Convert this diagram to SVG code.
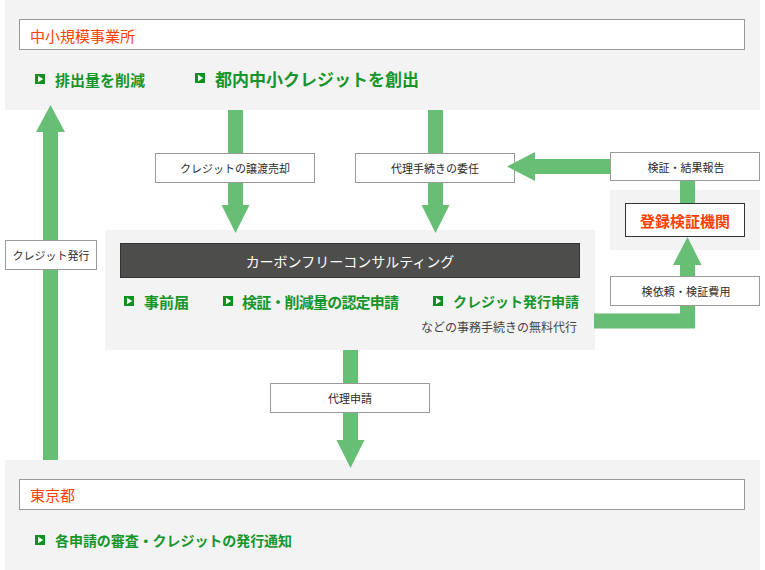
<svg xmlns="http://www.w3.org/2000/svg" width="765" height="570" viewBox="0 0 765 570">
<style>
text{font-family:"Noto Sans CJK JP","Noto Sans",sans-serif;dominant-baseline:central}
.panel{fill:#f3f3f3}
.hbox{fill:#fff;stroke:#999;stroke-width:1}
.red{fill:#ff3f00;font-size:15px}
.green{fill:#16952a;font-size:15px;font-weight:700}
.lbl{fill:#2b2b2b;font-size:11px;text-anchor:middle}
.lbox{fill:#fff;stroke:#999;stroke-width:1}
.arrow{fill:#66bf75}
</style>
<defs>
<g id="bullet"><rect x="0" y="0" width="10" height="10" fill="#12901f"/><polygon points="3,1.8 8.2,5 3,8.2" fill="#fff"/></g>
</defs>
<g id="node-sme">
<rect class="panel" x="5" y="0" width="755" height="110"/>
<rect class="hbox" x="19.5" y="19.5" width="725" height="30"/>
<text class="red" x="30" y="35">中小規模事業所</text>
<use href="#bullet" x="35" y="74"/>
<text class="green" x="55" y="79">排出量を削減</text>
<use href="#bullet" x="195" y="73"/>
<text class="green" x="215" y="78" style="font-size:17px">都内中小クレジットを創出</text>
</g>
<g id="node-cfc">
<rect class="panel" x="105" y="230" width="490" height="120"/>
<rect x="120.5" y="243.5" width="459" height="34" fill="#4d4d4b" stroke="#333"/>
<text x="350" y="260.5" fill="#fff" style="font-size:14px;text-anchor:middle">カーボンフリーコンサルティング</text>
<use href="#bullet" x="124" y="296"/>
<text class="green" x="144" y="301">事前届</text>
<use href="#bullet" x="223" y="296"/>
<text class="green" x="242" y="301" textLength="157" lengthAdjust="spacing">検証・削減量の認定申請</text>
<use href="#bullet" x="433" y="296"/>
<text class="green" x="453" y="301" style="font-size:14px">クレジット発行申請</text>
<text x="577" y="326.5" fill="#444" style="font-size:12px;text-anchor:end">などの事務手続きの無料代行</text>
</g>
<g id="node-verifier">
<rect class="panel" x="610" y="190" width="150" height="60"/>
<rect x="625.5" y="203.5" width="119" height="33" fill="#fff" stroke="#333"/>
<text x="685" y="220" fill="#ff3f00" style="font-size:15px;font-weight:700;text-anchor:middle">登録検証機関</text>
</g>
<g id="node-tokyo">
<rect class="panel" x="5" y="460" width="755" height="110"/>
<rect class="hbox" x="19.5" y="479.5" width="725" height="30"/>
<text class="red" x="30" y="494.5">東京都</text>
<use href="#bullet" x="35" y="535"/>
<text class="green" x="55" y="539.5" style="font-size:14px" textLength="237" lengthAdjust="spacing">各申請の審査・クレジットの発行通知</text>
</g>
<g id="connectors">
<polygon class="arrow" points="43,460 43,132 36,132 50.5,105 65,132 58,132 58,460"/>
<polygon class="arrow" points="228,110 243,110 243,205 249.5,205 235.5,233 221.5,205 228,205"/>
<polygon class="arrow" points="428,110 443,110 443,205 449.5,205 435.5,233 421.5,205 428,205"/>
<polygon class="arrow" points="343,350 358,350 358,440 364.5,440 350.5,468 336.5,440 343,440"/>
<rect class="arrow" x="680" y="180" width="15" height="23"/>
<polygon class="arrow" points="594,313.5 680,313.5 680,265 673,265 687.5,237 701.5,265 695,265 695,328.5 594,328.5"/>
<rect class="lbox" x="5.5" y="240.5" width="91" height="29"/>
<text class="lbl" x="51" y="255">クレジット発行</text>
<rect class="lbox" x="155.5" y="153.5" width="159" height="29"/>
<text class="lbl" x="235" y="168">クレジットの譲渡売却</text>
<rect class="lbox" x="355.5" y="153.5" width="159" height="29"/>
<text class="lbl" x="435" y="168">代理手続きの委任</text>
<rect class="lbox" x="610.5" y="152.5" width="149" height="28"/>
<text class="lbl" x="686" y="166.5" textLength="77" lengthAdjust="spacing">検証・結果報告</text>
<rect class="lbox" x="610.5" y="276.5" width="149" height="29"/>
<text class="lbl" x="686" y="291" textLength="89" lengthAdjust="spacing">検依頼・検証費用</text>
<rect class="lbox" x="270.5" y="383.5" width="159" height="29"/>
<text class="lbl" x="350" y="398">代理申請</text>
<polygon class="arrow" points="610,159 535,159 535,152 507,166.5 535,181 535,174 610,174"/>
</g>
</svg>
